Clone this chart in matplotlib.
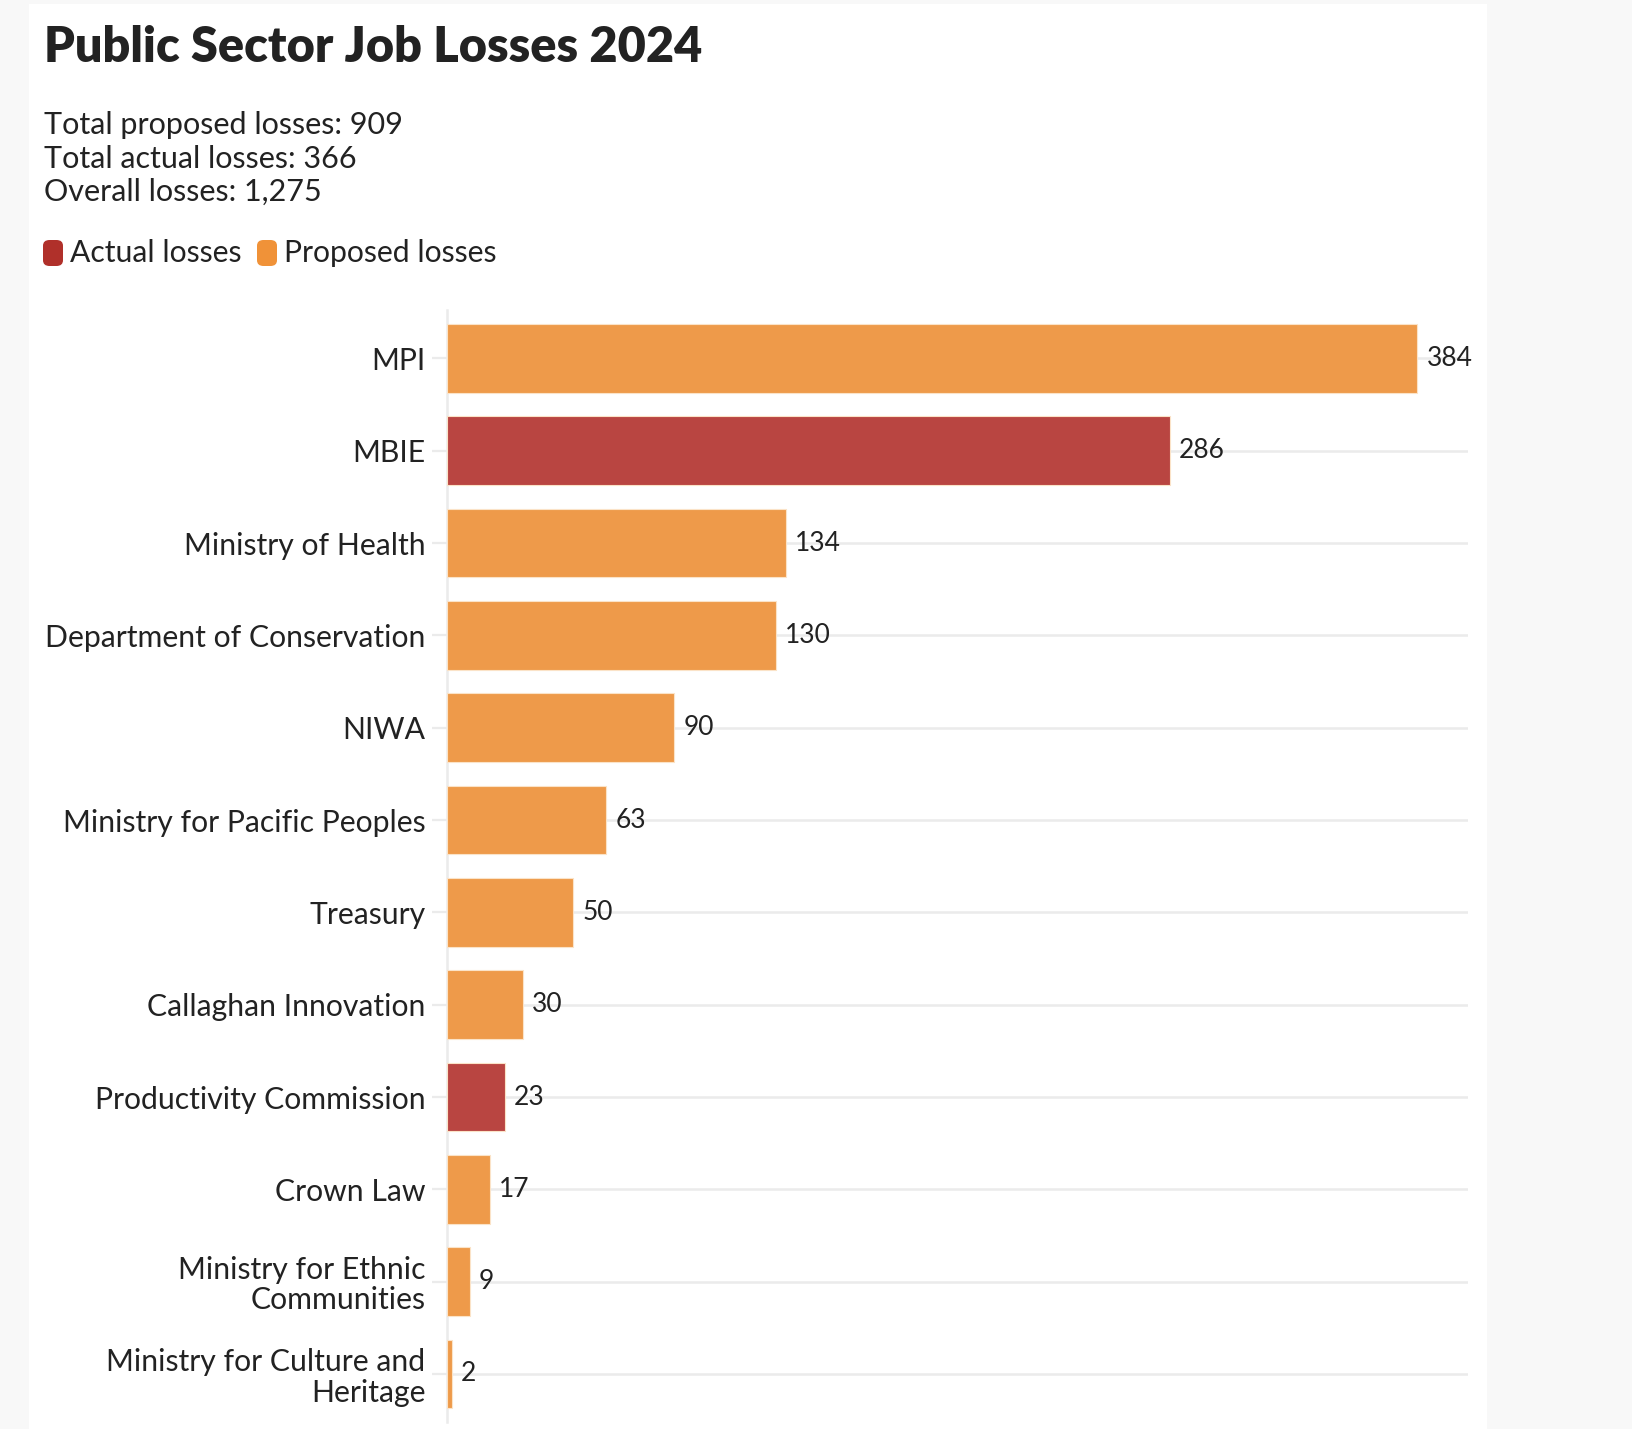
import matplotlib
matplotlib.use("Agg")
import matplotlib.pyplot as plt
from matplotlib.patches import Rectangle, FancyBboxPatch

plt.rcParams['font.family'] = ['Lato', 'DejaVu Sans']

# data
agencies = ['MPI', 'MBIE', 'Ministry of Health', 'Department of Conservation', 'NIWA',
            'Ministry for Pacific Peoples', 'Treasury', 'Callaghan Innovation',
            'Productivity Commission', 'Crown Law', 'Ministry for Ethnic\nCommunities',
            'Ministry for Culture and\nHeritage']
losses = [384, 286, 134, 130, 90, 63, 50, 30, 23, 17, 9, 2]
loss_type = ['Proposed', 'Actual', 'Proposed', 'Proposed', 'Proposed', 'Proposed',
             'Proposed', 'Proposed', 'Actual', 'Proposed', 'Proposed', 'Proposed']
summary = ['Total proposed losses: 909', 'Total actual losses: 366', 'Overall losses: 1,275']

bar_colors = {'Actual': '#B94541', 'Proposed': '#EE9A4A'}
key_colors = {'Actual': '#B0302A', 'Proposed': '#F09238'}
text_col = '#222222'
grid_col = '#EBEBEB'

W, H = 1633, 1429
fig = plt.figure(figsize=(W / 100, H / 100), dpi=100)
fig.patch.set_facecolor('#F8F8F8')
fig.patches.append(Rectangle((29 / W, 0), (1487 - 29) / W, (H - 4) / H,
                             transform=fig.transFigure, facecolor='white',
                             edgecolor='none', zorder=-5))

# header text
fig.text(44 / W, 1 - 47 / H, 'Public Sector Job Losses 2024', fontsize=35,
         fontweight='heavy', color=text_col, va='center', ha='left')
for k, line in enumerate(summary):
    fig.text(44 / W, 1 - (125 + 33.5 * k) / H, line, fontsize=22, color=text_col,
             va='center', ha='left')

# legend
key_x = [43, 257]
for (name, label), x0 in zip([('Actual', 'Actual losses'), ('Proposed', 'Proposed losses')], key_x):
    fig.patches.append(FancyBboxPatch((x0 / W, 1 - 266 / H), 20 / W, 26 / H,
                                      boxstyle='round,pad=0,rounding_size=0.004',
                                      transform=fig.transFigure,
                                      facecolor=key_colors[name], edgecolor='none'))
    fig.text((x0 + 27) / W, 1 - 253 / H, label, fontsize=21.7, color=text_col,
             va='center', ha='left')

# chart
ax = fig.add_axes([447 / W, 7 / H, (1468 - 447) / W, (1422 - 310) / H])
ax.set_facecolor('none')
ypos = list(range(len(agencies)))
ax.barh(ypos, losses, height=0.745, color=[bar_colors[t] for t in loss_type],
        edgecolor='#FBE3C8', linewidth=0.8, zorder=3)
for y, v in zip(ypos, losses):
    ax.annotate(str(v), (v, y), xytext=(6.5, 0), textcoords='offset points',
                va='center', ha='left', fontsize=19, color=text_col, zorder=4)

ax.set_xlim(0, 404)
ax.set_ylim(len(agencies) - 0.48, -0.525)
ax.set_yticks(ypos)
ax.set_yticklabels(agencies, fontsize=21.7, color=text_col, linespacing=1.1)
ax.set_xticks([])
ax.tick_params(axis='y', length=11, width=1.6, color=grid_col, pad=4.5)
ax.yaxis.grid(True, color=grid_col, linewidth=1.8, zorder=0)
ax.set_axisbelow(True)
for side in ['top', 'right', 'bottom']:
    ax.spines[side].set_visible(False)
ax.spines['left'].set_color(grid_col)
ax.spines['left'].set_linewidth(1.8)

fig.savefig('out.png', dpi=100, facecolor=fig.get_facecolor())
